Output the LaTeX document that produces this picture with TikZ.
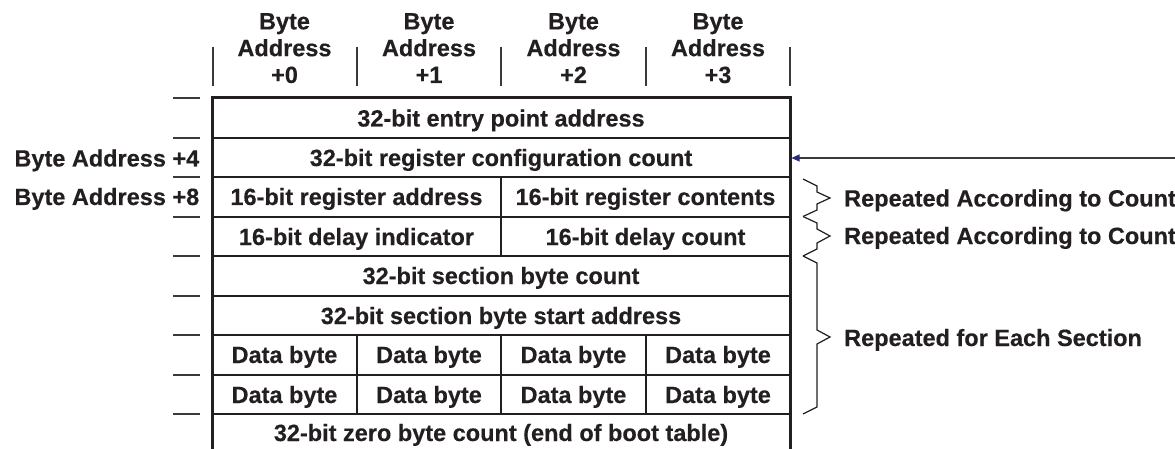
\documentclass[tikz,border=0pt]{standalone}
\usepackage{fontspec}
\setmainfont{Liberation Sans}[BoldFeatures={FakeBold=0.4}]
\usetikzlibrary{arrows.meta}
\definecolor{ink}{HTML}{231F20}
\definecolor{tickgray}{HTML}{3A3A3A}
\definecolor{tipblue}{HTML}{2B2A7A}
\begin{document}
\begin{tikzpicture}[x=1pt,y=-1pt,
  txt/.style={font=\bfseries\fontsize{23.5}{26.8}\selectfont, text=ink, inner sep=0pt, anchor=base},
  hdr/.style={txt, align=center, anchor=north},
  lbl/.style={txt, anchor=base east},
  rtxt/.style={txt, anchor=base west},
  outer/.style={draw=ink, line width=3pt},
  cell/.style={draw=ink, line width=1.4pt},
  tick/.style={draw=tickgray, line width=1.2pt},
  bracepath/.style={draw=ink, line width=1.2pt},
  feed/.style={draw=tickgray, line width=1.1pt, -{Triangle[color=tipblue, length=8pt, width=7pt]}}
]
\useasboundingbox (0,0) rectangle (1175,449);

% header
\node[hdr] (h0) at (284.5,13) {Byte\\Address\\+0};
\node[hdr] (h1) at (429,13) {Byte\\Address\\+1};
\node[hdr] (h2) at (573.5,13) {Byte\\Address\\+2};
\node[hdr] (h3) at (718,13) {Byte\\Address\\+3};
\foreach \x in {213,357,501,646,790} \draw[tick] (\x,47) -- (\x,86);

% left ticks
\foreach \y in {98,138,177,217,256,296,335,375,414} \draw[tick] (173,\y) -- (200,\y);

% row separators
\foreach \y in {138,177,217,256,296,335,375,414} \draw[cell] (212,\y) -- (790,\y);
\draw[cell] (501,177) -- (501,256);
\foreach \x in {357,501,646} \draw[cell] (\x,335) -- (\x,414);

% outer box
\draw[outer] (212,449) -- (212,98) -- (790,98) -- (790,449);

% row texts
\node[txt] (r1) at (501,126.5) {32-bit entry point address};
\node[txt] (r2) at (501,166) {32-bit register configuration count};
\node[txt] (r3a) at (356.5,205) {16-bit register address};
\node[txt] (r3b) at (645.5,205) {16-bit register contents};
\node[txt] (r4a) at (356.5,245) {16-bit delay indicator};
\node[txt] (r4b) at (645.5,245) {16-bit delay count};
\node[txt] (r5) at (501,284) {32-bit section byte count};
\node[txt] (r6) at (501,324) {32-bit section byte start address};
\node[txt] (d1) at (284.5,363) {Data byte};
\node[txt] (d2) at (429,363) {Data byte};
\node[txt] (d3) at (573.5,363) {Data byte};
\node[txt] (d4) at (718,363) {Data byte};
\node[txt] (d5) at (284.5,403) {Data byte};
\node[txt] (d6) at (429,403) {Data byte};
\node[txt] (d7) at (573.5,403) {Data byte};
\node[txt] (d8) at (718,403) {Data byte};
\node[txt] (r9) at (501,441) {32-bit zero byte count (end of boot table)};

% left labels
\node[lbl] (l4) at (199.5,166.5) {Byte Address +4};
\node[lbl] (l8) at (199.5,205) {Byte Address +8};

% arrow
\coordinate (src) at (1175,158);
\coordinate (dst) at (791.5,158);
\draw[feed] (src) -- (dst);

% braces
\draw[bracepath] (803,179) -- (817,186) -- (817,192) -- (830,198) -- (817,204) -- (817,210) -- (803,216.5);
\draw[bracepath] (803,216.5) -- (817,223) -- (817,229) -- (830,236) -- (817,243) -- (817,249) -- (803,256);
\draw[bracepath] (803,256) -- (817,263) -- (817,330) -- (830,337) -- (817,344) -- (817,407) -- (803,414);

\node[rtxt] (b1) at (844,206.5) {Repeated According to Count};
\node[rtxt] (b2) at (844,244) {Repeated According to Count};
\node[rtxt] (b3) at (844,346) {Repeated for Each Section};
\end{tikzpicture}
\end{document}
